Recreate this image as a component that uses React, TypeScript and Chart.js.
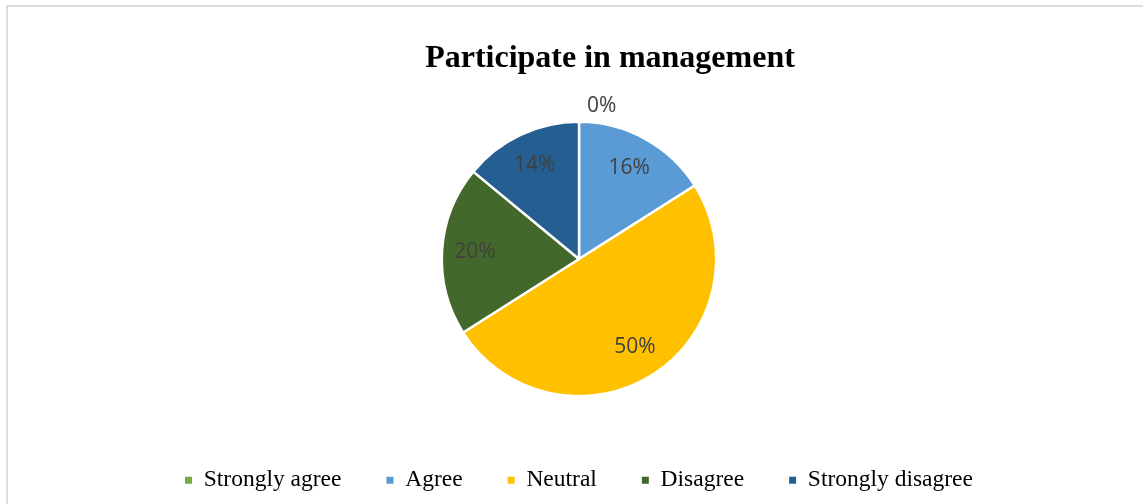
import React, { useEffect, useRef } from "react";
import { Chart, registerables } from "chart.js";

Chart.register(...registerables);

const TITLE = "Participate in management";
const categories = ["Strongly agree", "Agree", "Neutral", "Disagree", "Strongly disagree"];
const percentages = [0, 16, 50, 20, 14];
const colors = ["#70AD47", "#5B9BD5", "#FFC000", "#43682B", "#255E91"];

const titlePlugin = {
  id: "customTitle",
  afterDraw(chart: any) {
    const ctx = chart.ctx;
    ctx.save();
    ctx.font = 'bold 32px "Liberation Serif", "Times New Roman", serif';
    ctx.fillStyle = "#000000";
    ctx.textAlign = "center";
    ctx.textBaseline = "alphabetic";
    ctx.fillText(TITLE, 610, 66.5);
    ctx.restore();
  },
};

const labelPlugin = {
  id: "sliceLabels",
  afterDatasetsDraw(chart: any) {
    const ctx = chart.ctx;
    const meta = chart.getDatasetMeta(0);
    ctx.save();
    ctx.font = '21px "Open Sans", sans-serif';
    ctx.fillStyle = "#404040";
    ctx.textAlign = "center";
    ctx.textBaseline = "middle";
    meta.data.forEach((arc: any, i: number) => {
      const p = arc.getProps(["x", "y", "startAngle", "endAngle", "outerRadius"], true);
      const v = percentages[i];
      const text = v + "%";
      const mid = (p.startAngle + p.endAngle) / 2;
      if (v === 0) {
        const w = ctx.measureText(text).width;
        const r = p.outerRadius + 16;
        ctx.fillText(text, p.x + Math.cos(mid) * r + w / 2 + 8, p.y + Math.sin(mid) * r);
      } else {
        const r = p.outerRadius * 0.76;
        ctx.fillText(text, p.x + Math.cos(mid) * r, p.y + Math.sin(mid) * r);
      }
    });
    ctx.restore();
  },
};

export default function App() {
  const ref = useRef<HTMLCanvasElement | null>(null);

  useEffect(() => {
    if (!ref.current) return;
    const chart = new Chart(ref.current, {
      type: "pie",
      data: {
        labels: categories,
        datasets: [
          {
            data: percentages,
            backgroundColor: colors,
            borderColor: "#ffffff",
            borderWidth: 2.5,
            radius: 137.2,
          } as any,
        ],
      },
      options: {
        responsive: false,
        animation: false,
        devicePixelRatio: 1,
        layout: { padding: { top: 94.6, left: 15, right: 0, bottom: 2 } },
        plugins: {
          title: { display: false },
          tooltip: { enabled: false },
          legend: {
            position: "bottom",
            labels: {
              boxWidth: 7,
              boxHeight: 7,
              padding: 45,
              color: "#000000",
              font: { family: '"Liberation Serif", "Times New Roman", serif', size: 23.5 },
              generateLabels: () =>
                categories.map((c, i) => ({
                  text: c,
                  fillStyle: colors[i],
                  strokeStyle: colors[i],
                  lineWidth: 0,
                  hidden: false,
                  index: i,
                  fontColor: "#000000",
                })),
            },
          },
        },
      },
      plugins: [labelPlugin, titlePlugin],
    } as any);
    return () => chart.destroy();
  }, []);

  return (
    <div
      style={{
        position: "absolute",
        left: 0,
        top: 0,
        width: 1143,
        height: 504,
        overflow: "hidden",
        background: "#ffffff",
      }}
    >
      <div
        style={{
          position: "absolute",
          left: 6,
          top: 5,
          width: 1400,
          height: 700,
          border: "2px solid #dcdcdc",
          boxSizing: "border-box",
        }}
      />
      <canvas
        ref={ref}
        width={1143}
        height={504}
        style={{ position: "absolute", left: 0, top: 0, width: 1143, height: 504 }}
      />
    </div>
  );
}
